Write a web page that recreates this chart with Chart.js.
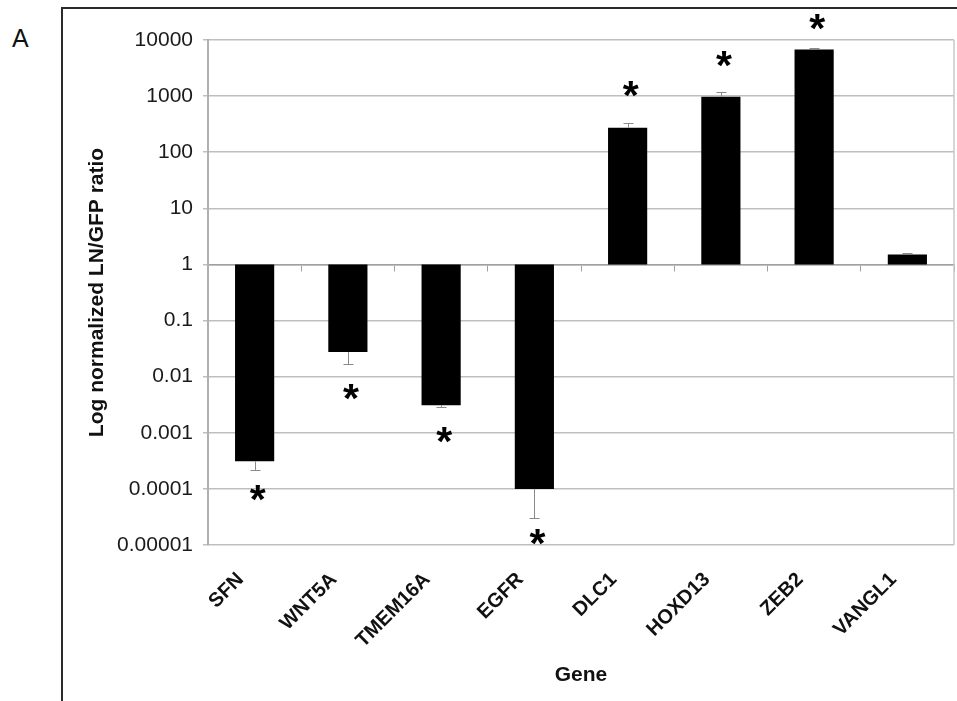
<!DOCTYPE html>
<html>
<head>
<meta charset="utf-8">
<script src="https://cdn.jsdelivr.net/npm/chart.js@4.4.1/dist/chart.umd.min.js"></script>
<style>
  html, body { margin: 0; padding: 0; background: #fff; }
  #wrap { position: relative; width: 957px; height: 701px; overflow: hidden; }
  #frame { position: absolute; left: 61px; top: 7px; width: 1000px; height: 800px;
           border-left: 2px solid #2a2a2a; border-top: 2px solid #2a2a2a; }
  #panel { position: absolute; left: 12px; top: 26px; font-family: "Liberation Sans", Arial, sans-serif;
           font-size: 25px; line-height: 25px; color: #111; }
  canvas { position: absolute; left: 0; top: 0; }
</style>
</head>
<body>
<div id="wrap">
  <div id="frame"></div>
  <div id="panel">A</div>
  <canvas id="c" width="957" height="701"></canvas>
</div>
<script>
// ---- data ----
const genes = ["SFN", "WNT5A", "TMEM16A", "EGFR", "DLC1", "HOXD13", "ZEB2", "VANGL1"];
const ratios = [0.00031, 0.0274, 0.0031, 0.0001, 273, 975, 6800, 1.51];
const errorEnds = [0.00022, 0.017, 0.0029, 0.00003, 336, 1200, 7100, 1.57];
const starAt = [0.000086, 0.0054, 0.00093, 0.000014, 1320, 4500, 20600, null];
const yTickValues = [0.00001, 0.0001, 0.001, 0.01, 0.1, 1, 10, 100, 1000, 10000];
const yTickLabels = ["0.00001", "0.0001", "0.001", "0.01", "0.1", "1", "10", "100", "1000", "10000"];
const baseline = 1;

const FONT = "'Liberation Sans', Arial, sans-serif";

const errorBars = {
  id: 'errorBars',
  afterDatasetsDraw(chart) {
    const { ctx, scales: { x, y } } = chart;
    ctx.save();
    ctx.strokeStyle = '#8a8a8a';
    ctx.lineWidth = 1;
    genes.forEach((g, i) => {
      const px = Math.round(x.getPixelForValue(i)) + 0.5;
      const y0 = y.getPixelForValue(ratios[i]);
      const y1 = Math.round(y.getPixelForValue(errorEnds[i])) + 0.5;
      ctx.beginPath();
      ctx.moveTo(px, y0); ctx.lineTo(px, y1);
      ctx.moveTo(px - 5, y1); ctx.lineTo(px + 5, y1);
      ctx.stroke();
    });
    ctx.restore();
  }
};

const stars = {
  id: 'stars',
  afterDraw(chart) {
    const { ctx, scales: { x, y } } = chart;
    ctx.save();
    ctx.font = "bold 41px " + FONT;
    ctx.fillStyle = '#000';
    ctx.textAlign = 'center';
    ctx.textBaseline = 'alphabetic';
    const m = ctx.measureText('*');
    const mid = (m.actualBoundingBoxAscent - m.actualBoundingBoxDescent) / 2;
    genes.forEach((g, i) => {
      if (starAt[i] == null) return;
      const px = x.getPixelForValue(i) + 3;
      const py = y.getPixelForValue(starAt[i]);
      ctx.fillText('*', px, py + mid);
    });
    ctx.restore();
  }
};

const rightEdge = {
  id: 'rightEdge',
  afterDraw(chart) {
    const { ctx, chartArea: a } = chart;
    ctx.save();
    ctx.strokeStyle = '#c8c8c8';
    ctx.lineWidth = 1.5;
    ctx.beginPath();
    ctx.moveTo(a.right, a.top); ctx.lineTo(a.right, a.bottom);
    ctx.stroke();
    ctx.restore();
  }
};

new Chart(document.getElementById('c'), {
  type: 'bar',
  data: {
    labels: genes,
    datasets: [{
      data: ratios.map(v => [baseline, v]),
      backgroundColor: '#000',
      borderColor: '#000',
      borderWidth: 0,
      barPercentage: 0.42,
      categoryPercentage: 1.0
    }]
  },
  options: {
    responsive: false,
    animation: false,
    events: [],
    layout: { padding: { left: 81, top: 40, right: 3, bottom: 9 } },
    plugins: { legend: { display: false }, tooltip: { enabled: false } },
    scales: {
      x: {
        type: 'category',
        position: 'bottom',
        offset: true,
        grid: { display: false, drawTicks: false },
        border: { display: false },
        ticks: {
          minRotation: 45, maxRotation: 45,
          autoSkip: false,
          padding: 23,
          labelOffset: -14,
          color: '#111',
          font: { family: FONT, size: 20, weight: 'bold' }
        },
        title: {
          display: true, text: 'Gene', color: '#111',
          font: { family: FONT, size: 21, weight: 'bold' },
          padding: { top: 4, bottom: 4 }
        },
        afterFit(s) { s.height = 701 - 545 - 9; }
      },
      x2: {
        type: 'category',
        labels: genes,
        position: { y: 1 },
        offset: true,
        grid: { display: true, drawOnChartArea: false, drawTicks: true, tickLength: 6, color: '#a0a0a0', offset: true },
        border: { display: true, color: '#a0a0a0', width: 1.5 },
        ticks: { display: false }
      },
      y: {
        type: 'logarithmic',
        min: 0.00001,
        max: 10000,
        afterBuildTicks(s) { s.ticks = yTickValues.map(v => ({ value: v })); },
        grid: { color: '#bfbfbf', lineWidth: 1.5, tickLength: 5 },
        border: { display: true, color: '#b0b0b0', width: 2 },
        ticks: {
          padding: 10,
          color: '#1a1a1a',
          font: { family: FONT, size: 21 },
          callback(v) { const i = yTickValues.findIndex(t => Math.abs(Math.log10(t) - Math.log10(v)) < 1e-6); return i >= 0 ? yTickLabels[i] : ''; }
        },
        title: {
          display: true, text: 'Log normalized LN/GFP ratio', color: '#111',
          font: { family: FONT, size: 21, weight: 'bold' },
          padding: { top: 4, bottom: 4 }
        },
        afterFit(s) { s.width = 208 - 81; }
      }
    }
  },
  plugins: [errorBars, stars, rightEdge]
});
</script>
</body>
</html>
